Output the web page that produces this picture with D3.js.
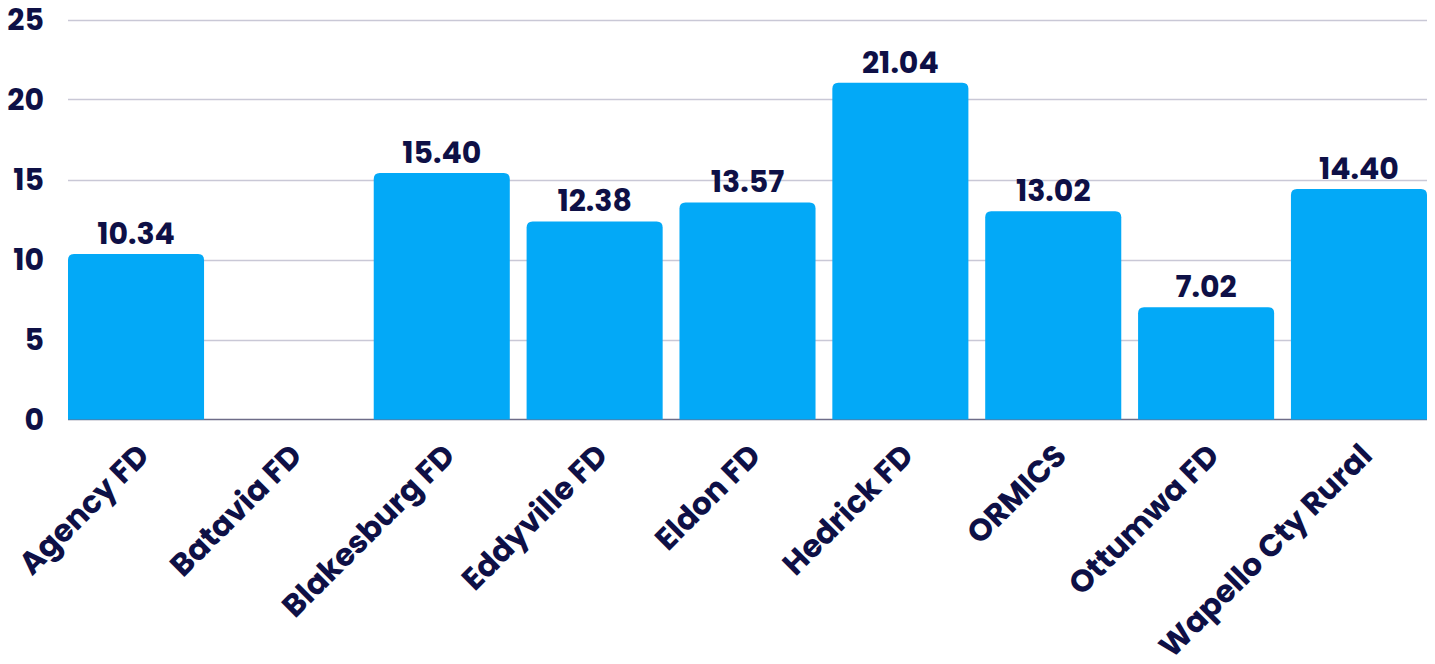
<!DOCTYPE html>
<html>
<head>
<meta charset="utf-8">
<script src="https://cdn.jsdelivr.net/npm/d3@7"></script>
<style>
  html, body { margin: 0; padding: 0; background: #ffffff; }
  svg { display: block; }
  text { font-family: Poppins, Inter, "Open Sans", sans-serif; font-weight: 700; fill: #0e1046; }
</style>
</head>
<body>
<svg id="chart" width="1435" height="664"></svg>
<script>
const categories = ["Agency FD", "Batavia FD", "Blakesburg FD", "Eddyville FD", "Eldon FD", "Hedrick FD", "ORMICS", "Ottumwa FD", "Wapello Cty Rural"];
const values = [10.34, 0, 15.40, 12.38, 13.57, 21.04, 13.02, 7.02, 14.40];
const yTicks = [0, 5, 10, 15, 20, 25];

const svg = d3.select("#chart");
const margin = { left: 68, right: 8, top: 19.5, bottom: 244.5 };
const W = 1435, H = 664;

const x = d3.scaleBand().domain(categories)
  .range([margin.left, W - margin.right])
  .paddingInner(0.11).paddingOuter(0);
const y = d3.scaleLinear().domain([0, 25]).range([H - margin.bottom, margin.top]);

// gridlines
svg.append("g").selectAll("line").data(yTicks.filter(d => d > 0)).join("line")
  .attr("x1", margin.left).attr("x2", W - margin.right)
  .attr("y1", d => Math.round(y(d)) + 0.5).attr("y2", d => Math.round(y(d)) + 0.5)
  .attr("stroke", "#c9c8d6").attr("stroke-width", 1.3);

// baseline
svg.append("line")
  .attr("x1", margin.left).attr("x2", W - margin.right)
  .attr("y1", y(0)).attr("y2", y(0))
  .attr("stroke", "#6e6c88").attr("stroke-width", 1.3);

// y tick labels
svg.append("g").selectAll("text").data(yTicks).join("text")
  .attr("x", 44).attr("y", d => y(d))
  .attr("dy", "0.36em")
  .attr("text-anchor", "end")
  .style("font-size", "30px")
  .text(d => d);

// bars with rounded top
const r = 6;
function barPath(x0, w, yTop, yBase) {
  const h = yBase - yTop;
  if (h <= 0) return "";
  const rr = Math.min(r, h, w / 2);
  return `M${x0},${yBase}V${yTop + rr}Q${x0},${yTop} ${x0 + rr},${yTop}H${x0 + w - rr}Q${x0 + w},${yTop} ${x0 + w},${yTop + rr}V${yBase}Z`;
}
svg.append("g").selectAll("path").data(categories.map((c, i) => ({ c, v: values[i] }))).join("path")
  .attr("d", d => barPath(x(d.c), x.bandwidth(), y(d.v), y(0)))
  .attr("fill", "#03a9f7");

// value labels
svg.append("g").selectAll("text").data(categories.map((c, i) => ({ c, v: values[i] })).filter(d => d.v > 0)).join("text")
  .attr("x", d => x(d.c) + x.bandwidth() / 2)
  .attr("y", d => y(d.v) - 10)
  .attr("text-anchor", "middle")
  .style("font-size", "30px")
  .text(d => d.v.toFixed(2));

// x labels rotated
svg.append("g").selectAll("text").data(categories).join("text")
  .attr("transform", d => `translate(${x(d) + x.bandwidth() / 2 + 7},${y(0) + 30}) rotate(-45)`)
  .attr("text-anchor", "end")
  .attr("dy", "0.36em")
  .style("font-size", "31px")
  .text(d => d);
</script>
</body>
</html>
